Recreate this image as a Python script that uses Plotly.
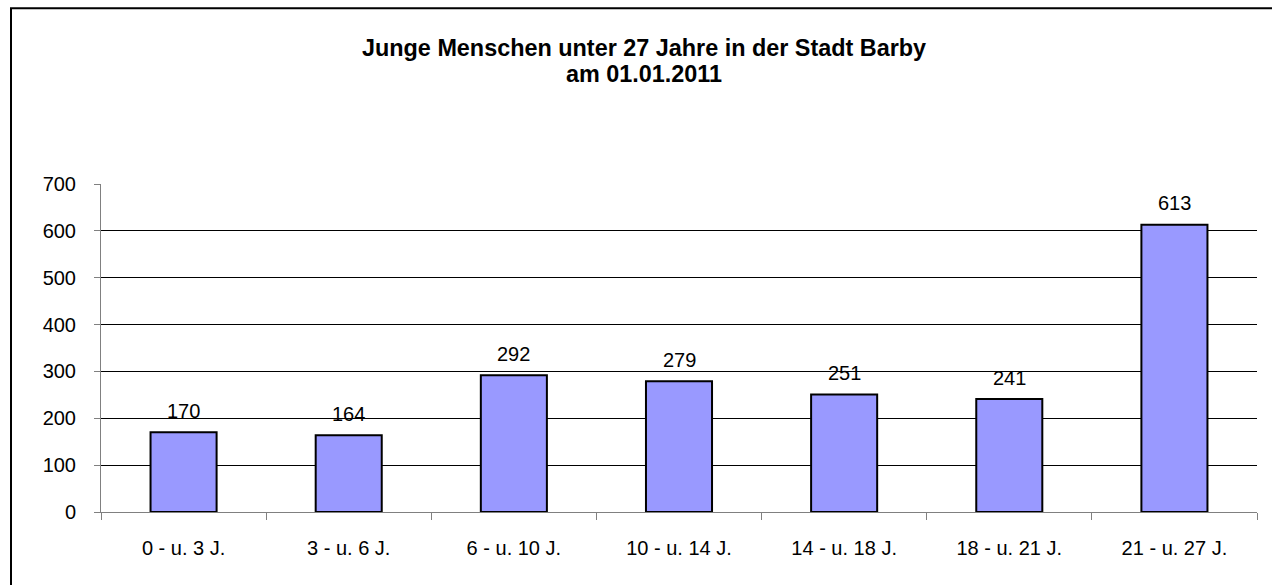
import plotly.graph_objects as go

categories = ["0 - u. 3 J.", "3 - u. 6 J.", "6 - u. 10 J.", "10 - u. 14 J.",
              "14 - u. 18 J.", "18 - u. 21 J.", "21 - u. 27 J."]
values = [170, 164, 292, 279, 251, 241, 613]
title_line1 = "Junge Menschen unter 27 Jahre in der Stadt Barby"
title_line2 = "am 01.01.2011"

W, H = 1272, 585
L, R, T, B = 101, 15, 184, 73
pw, ph = W - L - R, H - T - B

def px(xp):
    return (xp - L) / pw

def py(yp):
    return (H - B - yp) / ph

FONT = "Liberation Sans, Arial, sans-serif"

fig = go.Figure()
fig.add_trace(go.Bar(
    x=categories, y=values,
    marker=dict(color="#9999FF", line=dict(color="#000000", width=2)),
    hoverinfo="skip",
))

annotations = []
for c, v in zip(categories, values):
    annotations.append(dict(x=c, y=v, xref="x", yref="y", text=str(v),
                            showarrow=False, yanchor="bottom", yshift=8.5,
                            font=dict(family=FONT, size=20, color="#000")))
annotations.append(dict(x=px(643.5), y=py(48), xref="paper", yref="paper",
                        text="<b>" + title_line1 + "</b>", showarrow=False,
                        xanchor="center", yanchor="middle",
                        font=dict(family=FONT, size=23.4, color="#000")))
annotations.append(dict(x=px(643.5), y=py(74), xref="paper", yref="paper",
                        text="<b>" + title_line2 + "</b>", showarrow=False,
                        xanchor="center", yanchor="middle",
                        font=dict(family=FONT, size=23.4, color="#000")))

fig.update_layout(
    width=W, height=H,
    margin=dict(l=L, r=R, t=T, b=B, pad=0),
    paper_bgcolor="white", plot_bgcolor="white",
    showlegend=False,
    bargap=0.6,
    font=dict(family=FONT, size=20, color="#000"),
    annotations=annotations,
    shapes=[dict(type="rect", xref="paper", yref="paper",
                 x0=px(11), x1=px(1300), y0=py(620), y1=py(8.3),
                 line=dict(color="#000", width=2), fillcolor="rgba(0,0,0,0)",
                 layer="above")],
)
fig.update_xaxes(
    type="category", tickson="boundaries", ticks="outside", ticklen=7,
    tickcolor="#808080", showline=True, linecolor="#808080", linewidth=1,
    showgrid=False, ticklabelstandoff=18, tickfont=dict(size=20),
)
fig.update_yaxes(
    range=[0, 700], dtick=100, ticks="outside", ticklen=6, tickcolor="#808080",
    showline=True, linecolor="#808080", linewidth=1,
    showgrid=True, gridcolor="#000000", gridwidth=1, zeroline=False,
    ticklabelstandoff=14, tickfont=dict(size=20),
)

fig.write_html(
    "out.html",
    config={"displayModeBar": False},
    post_script="document.body.style.margin='0';document.body.style.overflow='hidden';",
)
